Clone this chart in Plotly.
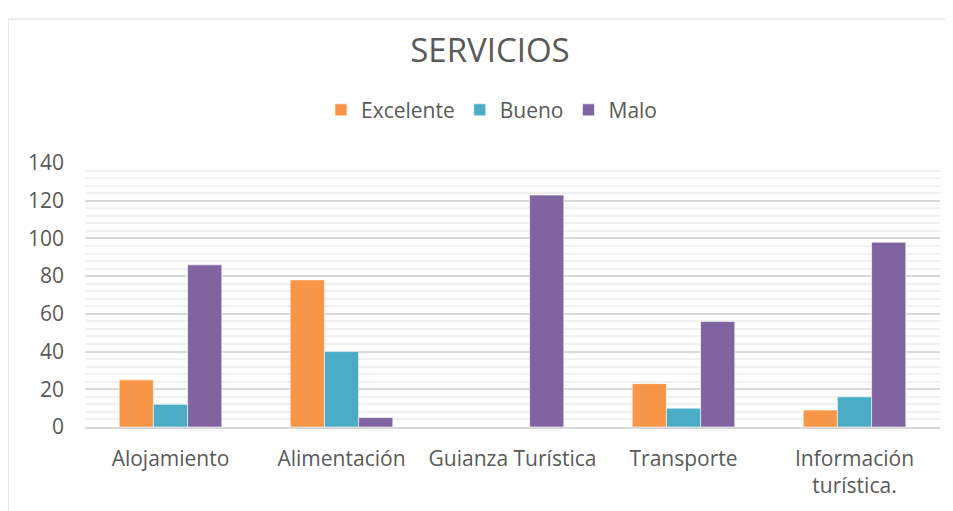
import plotly.graph_objects as go

categories = ["Alojamiento", "Alimentación", "Guianza Turística", "Transporte", "Información<br>turística."]
excelente = [25, 78, 0, 23, 9]
bueno = [12, 40, 0, 10, 16]
malo = [86, 5, 123, 56, 98]

series = [("Excelente", excelente, "#F79646"),
          ("Bueno", bueno, "#4BACC6"),
          ("Malo", malo, "#8064A2")]

font_name = "Open Sans, Liberation Sans, sans-serif"

fig = go.Figure()
for name, values, color in series:
    fig.add_trace(go.Bar(x=categories, y=values, name=name,
                         marker=dict(color=color, line=dict(color="rgba(255,255,255,0.6)", width=1))))

# page body adds 8px margin, so the figure is a bit smaller than the window
fig.update_layout(
    width=945, height=503,
    margin=dict(l=77, r=13, t=155, b=80),
    paper_bgcolor="white", plot_bgcolor="white",
    font=dict(family=font_name, color="#595959", size=21),
    barmode="group", bargap=0.4, bargroupgap=0,
    title=dict(text="SERVICIOS", x=0.51, xanchor="center", y=0.9165, yanchor="middle",
               font=dict(size=33, color="#595959")),
    legend=dict(orientation="h", x=0.476, xanchor="center", y=1.2, yanchor="middle",
                font=dict(size=21, color="#595959"), itemwidth=30, traceorder="normal"),
    showlegend=True,
)
fig.update_yaxes(range=[0, 140], dtick=20, showgrid=True, gridcolor="#D9D9D9", gridwidth=1.5,
                 zeroline=False, showline=False, ticks="", ticklabelstandoff=20,
                 minor=dict(dtick=4, showgrid=True, gridcolor="#F0F0F0", gridwidth=1.5),
                 tickfont=dict(size=21, color="#595959"))
fig.update_xaxes(showline=True, linecolor="#D9D9D9", linewidth=1.5, ticks="", ticklabelstandoff=12,
                 tickfont=dict(size=21, color="#595959"))

# outer chart border
fig.add_shape(type="rect", xref="paper", yref="paper", x0=-0.09, x1=1.03, y0=-0.4, y1=1.545,
              line=dict(color="#D9D9D9", width=1), fillcolor="rgba(0,0,0,0)", layer="below")

fig.write_html("out.html")
